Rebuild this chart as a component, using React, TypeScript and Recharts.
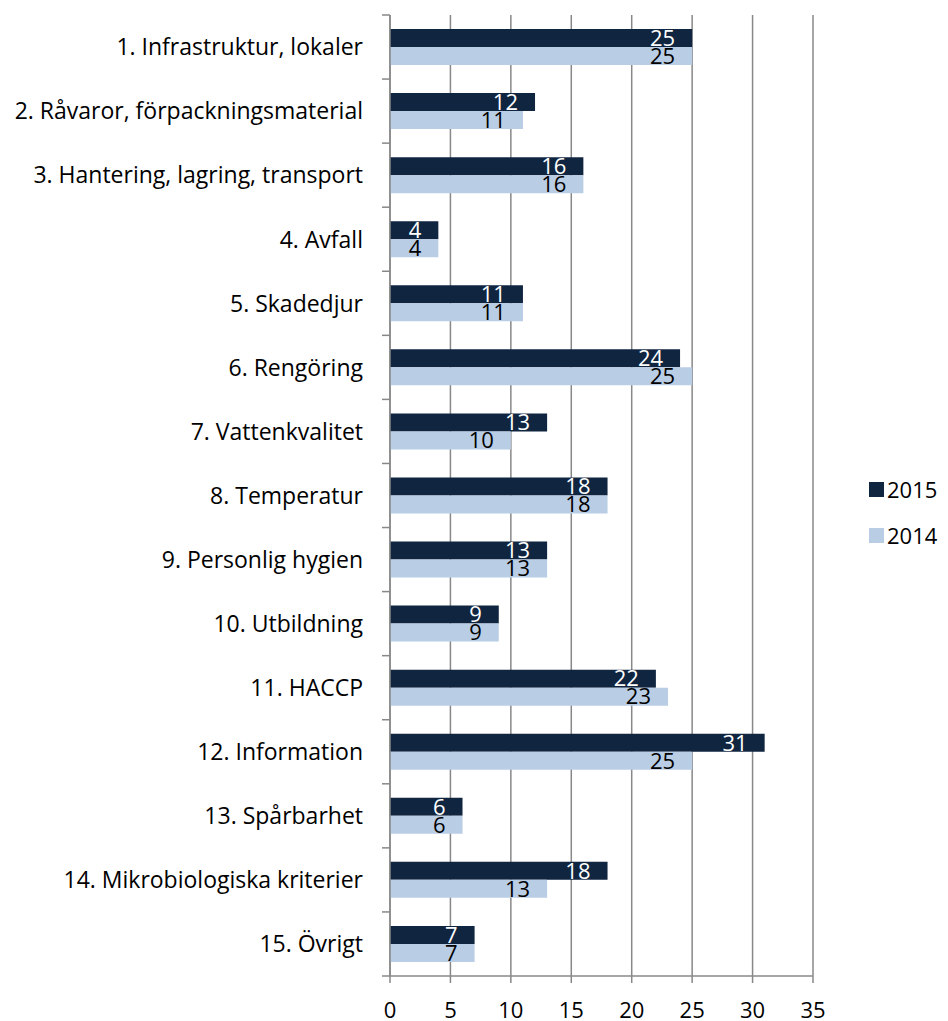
import React from "react";
import { BarChart, Bar, XAxis, YAxis, CartesianGrid, LabelList, Legend } from "recharts";

const categories = [
  "1. Infrastruktur, lokaler",
  "2. Råvaror, förpackningsmaterial",
  "3. Hantering, lagring, transport",
  "4. Avfall",
  "5. Skadedjur",
  "6. Rengöring",
  "7. Vattenkvalitet",
  "8. Temperatur",
  "9. Personlig hygien",
  "10. Utbildning",
  "11. HACCP",
  "12. Information",
  "13. Spårbarhet",
  "14. Mikrobiologiska kriterier",
  "15. Övrigt",
];
const values2015 = [25, 12, 16, 4, 11, 24, 13, 18, 13, 9, 22, 31, 6, 18, 7];
const values2014 = [25, 11, 16, 4, 11, 25, 10, 18, 13, 9, 23, 25, 6, 13, 7];
const xTicks = [0, 5, 10, 15, 20, 25, 30, 35];
const seriesNames = ["2015", "2014"];
const colors = ["#10253F", "#B9CDE5"];

const data = categories.map((c, i) => ({ name: c, y2015: values2015[i], y2014: values2014[i] }));

const W = 948;
const H = 1021;
const M = { top: 15, right: 135, bottom: 0, left: 0 };
const Y_W = 390;
const X_H = 45;
const FONT = "'Open Sans', Lato, sans-serif";
const GRID = "#888888";

const plotH = H - M.top - M.bottom - X_H;
const band = plotH / categories.length;

const CatTick = (props: any) => {
  const { x, y, payload, index } = props;
  const ax = x;
  return (
    <g>
      <line x1={ax - 8} x2={ax} y1={y - band / 2} y2={y - band / 2} stroke={GRID} strokeWidth={1.5} />
      {index === categories.length - 1 && (
        <line x1={ax - 8} x2={ax} y1={y + band / 2} y2={y + band / 2} stroke={GRID} strokeWidth={1.5} />
      )}
      <text x={ax - 27} y={y} dy="0.36em" textAnchor="end" fontFamily={FONT} fontSize={23} fill="#000">
        {payload.value}
      </text>
    </g>
  );
};

const LegendContent = () => (
  <div style={{ fontFamily: FONT, fontSize: 22, color: "#000", lineHeight: "22px" }}>
    {seriesNames.map((s, i) => (
      <div key={s} style={{ display: "flex", alignItems: "center", height: 22, marginBottom: i === 0 ? 24 : 0 }}>
        <span style={{ display: "inline-block", width: 15, height: 15, background: colors[i], marginRight: 3 }} />
        <span>{s}</span>
      </div>
    ))}
  </div>
);

export default function App() {
  return (
    <div style={{ position: "absolute", left: 0, top: 0, width: W, height: H, background: "#fff" }}>
      <BarChart
        width={W}
        height={H}
        data={data}
        layout="vertical"
        margin={M}
        barGap={0}
        barSize={18}
      >
        <CartesianGrid horizontal={false} vertical={true} stroke={GRID} strokeWidth={1.5} />
        <XAxis
          type="number"
          domain={[0, 35]}
          ticks={xTicks}
          interval={0}
          height={X_H}
          axisLine={{ stroke: GRID, strokeWidth: 1.5 }}
          tickLine={{ stroke: GRID, strokeWidth: 1.5 }}
          tickSize={7}
          tickMargin={19}
          tick={{ fontFamily: FONT, fontSize: 22, fill: "#000" }}
        />
        <YAxis
          type="category"
          dataKey="name"
          width={Y_W}
          interval={0}
          axisLine={{ stroke: GRID, strokeWidth: 1.5 }}
          tickLine={false}
          tickSize={0}
          tickMargin={0}
          tick={<CatTick />}
        />
        <Legend
          verticalAlign="middle"
          align="center"
          layout="horizontal"
          wrapperStyle={{ position: "absolute", left: 869, top: 478, width: 80 }}
          content={<LegendContent />}
        />
        <Bar dataKey="y2015" name={seriesNames[0]} fill={colors[0]} isAnimationActive={false}>
          <LabelList dataKey="y2015" position="insideRight" offset={17} fill="#fff" fontFamily={FONT} fontSize={22} />
        </Bar>
        <Bar dataKey="y2014" name={seriesNames[1]} fill={colors[1]} isAnimationActive={false}>
          <LabelList dataKey="y2014" position="insideRight" offset={17} fill="#000" fontFamily={FONT} fontSize={22} />
        </Bar>
      </BarChart>
    </div>
  );
}
